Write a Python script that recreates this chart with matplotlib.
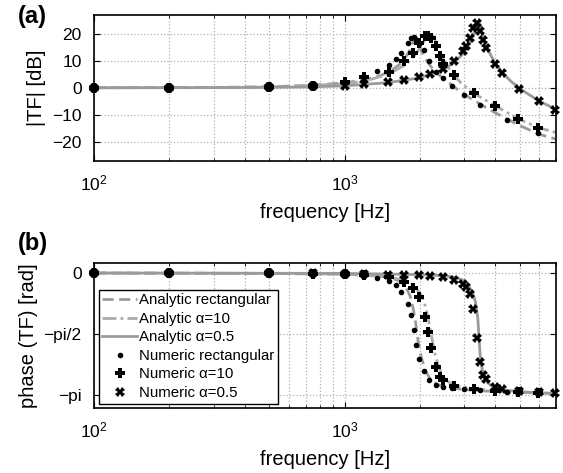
import numpy as np
import matplotlib
matplotlib.use('Agg')
import matplotlib.pyplot as plt
from matplotlib.ticker import FixedLocator, LogLocator, NullFormatter

plt.rcParams['font.family'] = ['Liberation Sans', 'DejaVu Sans']
plt.rcParams['mathtext.fontset'] = 'custom'
plt.rcParams['mathtext.rm'] = 'Liberation Sans'
plt.rcParams['mathtext.it'] = 'Liberation Sans:italic'
plt.rcParams['axes.unicode_minus'] = True

# ---- analytic curves ----
f_an_rect = [100, 300, 500, 700, 1000, 1200, 1400, 1550, 1650, 1750, 1820, 1870, 1900, 1925,
             1950, 1980, 2020, 2080, 2150, 2250, 2400, 2600, 2880, 3250, 3970, 4940, 5940, 7000]
mag_an_rect = [0.0, 0.1, 0.35, 0.8, 1.8, 2.9, 4.6, 6.6, 8.5, 11.2, 13.8, 16.4, 18.2, 18.8,
               18.0, 16.3, 14.0, 11.5, 9.3, 7.0, 4.5, 2.0, -1.3, -4.4, -9.1, -13.7, -17.1, -19.0]

f_an_a10 = [100, 300, 500, 700, 1000, 1200, 1500, 1750, 1900, 2000, 2080, 2150, 2220, 2270,
            2330, 2400, 2480, 2600, 2707, 2900, 3251, 3970, 4940, 5940, 7000]
mag_an_a10 = [0.0, 0.1, 0.3, 0.7, 1.5, 2.4, 5.0, 8.5, 11.8, 14.6, 17.3, 19.2, 19.8, 18.8,
              16.3, 13.2, 10.3, 7.3, 5.0, 2.0, -1.9, -6.5, -11.5, -14.7, -16.6]

f_an_a05 = [100, 300, 500, 700, 1000, 1500, 2000, 2500, 2750, 3000, 3150, 3250, 3330, 3400,
            3440, 3470, 3520, 3600, 3700, 3850, 4000, 4300, 4600, 5000, 6000, 7000]
mag_an_a05 = [0.0, 0.05, 0.15, 0.3, 0.7, 1.9, 3.7, 6.9, 9.4, 13.0, 16.0, 18.9, 21.6, 24.0,
              24.6, 23.5, 21.0, 18.0, 15.0, 11.7, 9.0, 5.2, 2.5, -0.3, -5.0, -8.0]

fph_an_rect = [100, 500, 1000, 1300, 1500, 1650, 1750, 1830, 1885, 1925, 1950, 1975, 2030,
               2110, 2210, 2370, 2680, 3050, 3500, 4500, 5500, 7000]
ph_an_rect = [0.0, -0.01, -0.03, -0.06, -0.11, -0.2, -0.34, -0.6, -0.95, -1.3, -1.57, -1.84,
              -2.2, -2.52, -2.76, -2.88, -2.96, -3.0, -3.03, -3.06, -3.08, -3.10]

fph_an_a10 = [100, 500, 1000, 1500, 1750, 1900, 2030, 2100, 2150, 2190, 2220, 2260, 2300,
              2370, 2450, 2560, 2800, 3300, 4000, 5000, 7000]
ph_an_a10 = [0.0, -0.01, -0.03, -0.1, -0.2, -0.33, -0.58, -0.85, -1.12, -1.4, -1.6, -1.85,
             -2.1, -2.38, -2.62, -2.78, -2.9, -2.98, -3.03, -3.07, -3.10]

fph_an_a05 = [100, 1000, 2000, 2500, 2800, 3000, 3150, 3250, 3330, 3405, 3435, 3480, 3520,
              3565, 3630, 3700, 3850, 3970, 4500, 5000, 6000, 7000]
ph_an_a05 = [0.0, -0.01, -0.04, -0.07, -0.12, -0.2, -0.36, -0.52, -0.74, -1.17, -1.58, -2.11,
             -2.38, -2.54, -2.7, -2.8, -2.9, -2.95, -3.02, -3.05, -3.08, -3.10]

# ---- numeric points ----
f_num_rect = [100, 200, 500, 750, 1000, 1346, 1510, 1600, 1683, 1790, 1845, 1885, 1930, 1990,
              2070, 2170, 2320, 2480, 2680, 2990, 3480, 4470, 5940]
mag_num_rect = [0.0, 0.05, 0.3, 0.9, 2.3, 6.1, 8.5, 10.8, 13.0, 16.5, 18.2, 18.6, 17.6, 16.2,
                14.0, 9.9, 6.0, 3.6, 0.5, -2.5, -6.5, -12.1, -16.6]
ph_num_rect = [0.0, -0.003, -0.01, -0.02, -0.04, -0.12, -0.2, -0.32, -0.48, -0.80, -1.08, -1.47,
               -1.84, -2.20, -2.52, -2.76, -2.87, -2.92, -2.95, -2.99, -3.02, -3.06, -3.09]

f_num_a10 = [100, 200, 500, 750, 1000, 1200, 1500, 1735, 1873, 1990, 2090, 2160, 2210, 2325,
             2395, 2480, 2735, 3280, 3970, 4940, 5940]
mag_num_a10 = [0.0, 0.05, 0.3, 0.8, 2.0, 3.9, 6.0, 9.7, 12.8, 16.6, 19.0, 19.3, 18.5, 15.3,
               11.9, 8.7, 4.8, -2.0, -6.6, -11.6, -14.9]
ph_num_a10 = [0.0, -0.003, -0.01, -0.02, -0.03, -0.05, -0.09, -0.24, -0.39, -0.61, -1.12, -1.51,
              -1.92, -2.41, -2.67, -2.76, -2.90, -2.97, -3.04, -3.07, -3.09]

f_num_a05 = [100, 200, 500, 750, 1000, 1200, 1490, 1735, 1990, 2185, 2470, 2735, 2970, 3060,
             3170, 3270, 3370, 3480, 3570, 3660, 3970, 4250, 4950, 6000, 6950]
mag_num_a05 = [0.0, 0.05, 0.2, 0.5, 0.8, 1.3, 2.1, 2.9, 3.9, 5.0, 7.1, 9.7, 13.6, 15.6,
               18.4, 22.0, 24.0, 21.0, 17.5, 14.5, 8.9, 5.3, -0.3, -5.0, -8.3]
ph_num_a05 = [0.0, -0.002, -0.005, -0.01, -0.02, -0.03, -0.05, -0.05, -0.06, -0.07, -0.11, -0.17,
              -0.28, -0.37, -0.55, -0.92, -1.66, -2.29, -2.61, -2.73, -2.92, -2.97, -3.04, -3.07, -3.09]

grey = '#9a9a9a'
grey2 = '#ababab'
lw = 2.0


def style_axes(ax):
    ax.set_xscale('log')
    ax.set_xlim(100, 7000)
    ax.xaxis.set_major_locator(FixedLocator([100, 1000]))
    ax.xaxis.set_minor_locator(LogLocator(base=10, subs=np.arange(2, 10)))
    ax.xaxis.set_minor_formatter(NullFormatter())
    ax.set_xticklabels([r'$10^{2}$', r'$10^{3}$'])
    ax.grid(True, which='both', axis='x', linestyle=':', color='#b0b0b0', linewidth=0.9)
    ax.grid(True, which='major', axis='y', linestyle=':', color='#b0b0b0', linewidth=0.9)
    ax.tick_params(which='both', direction='in', top=True, right=True, labelsize=12.5)
    ax.tick_params(which='major', length=4)
    ax.tick_params(which='minor', length=2)
    ax.tick_params(axis='x', which='major', pad=9)
    ax.tick_params(axis='y', which='major', pad=9)
    for s in ax.spines.values():
        s.set_linewidth(1.2)
    ax.set_xlabel('frequency [Hz]', fontsize=14.5, labelpad=7)


def draw(ax, fr, yr, fa, ya, f5, y5, nfr, nyr, nfa, nya, nf5, ny5):
    ax.plot(fr, yr, linestyle=(0, (4, 2)), color=grey, lw=lw, label='Analytic rectangular')
    ax.plot(fa, ya, linestyle=(0, (5, 1.5, 1, 1.5)), color=grey2, lw=lw, label='Analytic \u03b1=10')
    ax.plot(f5, y5, linestyle='-', color=grey, lw=lw, label='Analytic \u03b1=0.5')
    ax.plot(nfr, nyr, '.', color='black', ms=6, clip_on=False, label='Numeric rectangular')
    ax.plot(nfa, nya, 'P', color='black', ms=7, mew=0, clip_on=False, label='Numeric \u03b1=10')
    ax.plot(nf5, ny5, 'X', color='black', ms=6.5, mew=0, clip_on=False, label='Numeric \u03b1=0.5')


fig = plt.figure(figsize=(5.63, 4.73), dpi=100)
ax1 = fig.add_axes([0.167, 0.660, 0.821, 0.309])
ax2 = fig.add_axes([0.167, 0.137, 0.821, 0.308])

draw(ax1, f_an_rect, mag_an_rect, f_an_a10, mag_an_a10, f_an_a05, mag_an_a05,
     f_num_rect, mag_num_rect, f_num_a10, mag_num_a10, f_num_a05, mag_num_a05)
style_axes(ax1)
ax1.set_ylim(-27, 27)
ax1.set_yticks([-20, -10, 0, 10, 20])
ax1.set_ylabel('|TF| [dB]', fontsize=14.5)

draw(ax2, fph_an_rect, ph_an_rect, fph_an_a10, ph_an_a10, fph_an_a05, ph_an_a05,
     f_num_rect, ph_num_rect, f_num_a10, ph_num_a10, f_num_a05, ph_num_a05)
style_axes(ax2)
ax2.set_ylim(-np.pi - 0.335, 0.27)
ax2.set_yticks([-np.pi, -np.pi / 2, 0])
ax2.set_yticklabels(['\u2212pi', '\u2212pi/2', '0'])
ax2.set_ylabel('phase (TF) [rad]', fontsize=14.5)

leg = ax2.legend(loc='lower left', bbox_to_anchor=(0.0, 0.0), fontsize=10.8, frameon=True,
                 fancybox=False, edgecolor='black', framealpha=1, labelspacing=0.3,
                 handlelength=2.3, handletextpad=0.15, borderpad=0.25, borderaxespad=0.3)
leg.get_frame().set_linewidth(1.0)

fig.text(0.032, 0.99, '(a)', fontsize=17, fontweight='bold', va='top')
fig.text(0.032, 0.51, '(b)', fontsize=17, fontweight='bold', va='top')

fig.savefig('out.png', dpi=100)
